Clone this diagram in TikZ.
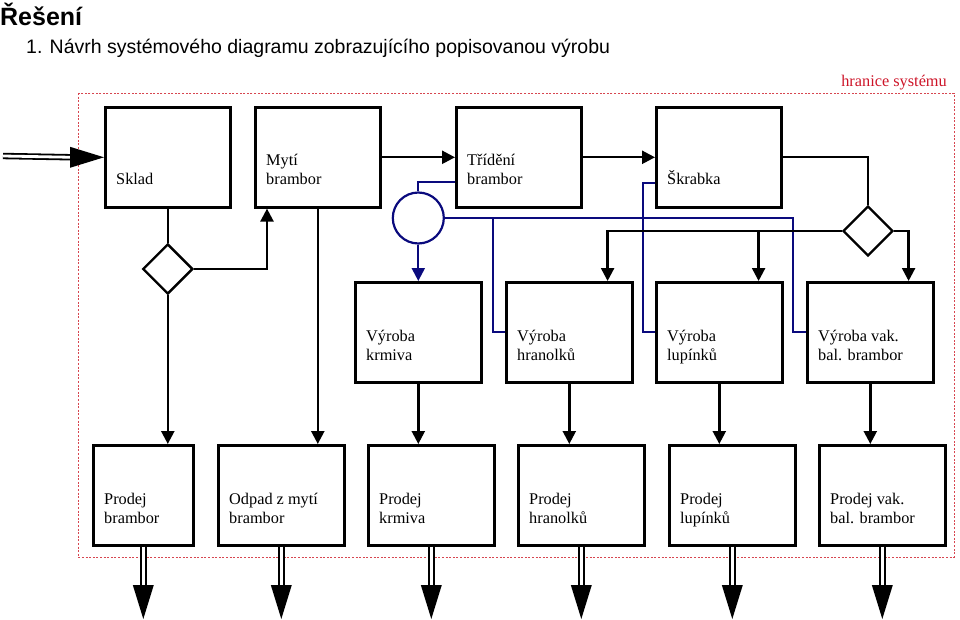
\documentclass[tikz,border=0pt]{standalone}
\usepackage{fontspec}
\setmainfont{Liberation Serif}
\setsansfont{Liberation Sans}
\usetikzlibrary{arrows.meta,shapes.geometric}
\definecolor{flowblue}{RGB}{10,10,125}
\definecolor{bndred}{RGB}{215,70,80}
\definecolor{lblred}{RGB}{205,20,40}
\newcommand{\procbox}[5]{%
  \node[pbox, minimum width=#4pt] (#1) at (#2,#3) {};
  \node[ptext] (#1-t) at (#2+12,#3+79) {\begin{tabular}[b]{@{}l@{}}#5\end{tabular}};}
\newcommand{\fatdown}[1]{%
  \coordinate (#1-end) at (#1.south |- 0,619);
  \draw[dbl] (#1.south) -- ([yshift=31]#1-end);
  \fill ([xshift=-10.5,yshift=34]#1-end) -- (#1-end) -- ([xshift=10.5,yshift=34]#1-end) -- cycle;}
\begin{document}
\begin{tikzpicture}[x=1pt,y=-1pt,
  pbox/.style={draw, line width=2.6pt, minimum height=100pt, inner sep=0pt, anchor=north west},
  ptext/.style={inner sep=0pt, anchor=base west, font=\fontsize{16.3}{19}\selectfont},
  ln/.style={line width=2.4pt},
  arr/.style={ln, -{Triangle[length=13pt,width=13pt]}},
  bln/.style={line width=2.2pt, draw=flowblue},
  barr/.style={bln, -{Triangle[length=13pt,width=13pt]}},
  dbl/.style={double, line width=1.8pt, double distance=2.8pt},
  dec/.style={diamond, draw, line width=2.4pt, minimum width=50pt, minimum height=50pt, inner sep=0pt},
  circ/.style={circle, draw=flowblue, line width=2.2pt, minimum size=51pt, inner sep=0pt},
  bnd/.style={draw=bndred, line width=0.9pt, dash pattern=on 2pt off 1.6pt}]
\useasboundingbox (0,0) rectangle (960,620);
\node[anchor=base west, inner sep=0pt, font=\sffamily\bfseries\fontsize{25}{30}\selectfont] (title) at (0,26) {Řešení};
\node[anchor=base west, inner sep=0pt, font=\sffamily\fontsize{19.5}{23}\selectfont] (sub) at (26,54) {\makebox[23.5pt][l]{1.}Návrh systémového diagramu zobrazujícího popisovanou výrobu};
\draw[bnd] (78,93) rectangle (954,557);
\node[anchor=base east, inner sep=0pt, text=lblred, font=\fontsize{16.3}{19}\selectfont] (hr) at (947,87) {hranice systému};

\procbox{sklad}{104}{106}{125}{Sklad}
\procbox{myti}{254}{106}{125}{Mytí\\brambor}
\procbox{trid}{455}{106}{125}{Třídění\\brambor}
\procbox{skr}{655}{106}{125}{Škrabka}
\procbox{vk}{354}{281}{126}{Výroba\\krmiva}
\procbox{vh}{505}{281}{126}{Výroba\\hranolků}
\procbox{vl}{655}{281}{126}{Výroba\\lupínků}
\procbox{vv}{806}{281}{126}{Výroba vak.\\bal. brambor}
\procbox{pb}{92}{444}{100}{Prodej\\brambor}
\procbox{po}{217}{444}{126}{Odpad z mytí\\brambor}
\procbox{pk}{367}{444}{126}{Prodej\\krmiva}
\procbox{ph}{517}{444}{126}{Prodej\\hranolků}
\procbox{pl}{668}{444}{126}{Prodej\\lupínků}
\procbox{pv}{818}{444}{126}{Prodej vak.\\bal. brambor}

\node[dec] (d1) at (sklad.south |- 0,269) {};
\node[dec] (d2) at (868,231) {};
\node[circ] (c) at (vk.north |- 0,218) {};

% input
\coordinate (in-start) at (3,156);
\draw[dbl] (in-start) -- ([xshift=-31]sklad.west);
\fill ([xshift=-34,yshift=10.5]sklad.west) -- (sklad.west) -- ([xshift=-34,yshift=-10.5]sklad.west) -- cycle;

% top row flow
\draw[arr] (myti.east) -- (trid.west);
\draw[arr] (trid.east) -- (skr.west);
\draw[ln] (sklad.south) -- (d1.north);
\draw[arr] (d1.east) -| ([xshift=13]myti.south west);
\draw[arr] (d1.south) -- (d1.south |- pb.north);
\draw[arr] (myti.south) -- (myti.south |- po.north);

% blue flows
\draw[bln] ([yshift=-25]trid.west) -| (c.north);
\draw[barr] (c.south) -- (vk.north);
\draw[bln] (c.east) -- (c.east -| 793,0) |- (vv.west);
\draw[bln] (c.east -| 493,0) |- (vh.west);
\draw[bln] ([yshift=-26]skr.west) -- ++(-12,0) |- (vl.west);

% right diamond
\draw[ln] (skr.east) -| (d2.north);
\draw[arr] (d2.east) -| ([xshift=-26]vv.north east);
\draw[arr] (d2.west) -| ([xshift=-26]vh.north east);
\coordinate (vl-in) at ([xshift=-25]vl.north east);
\draw[arr] (d2.west -| vl-in) -- (vl-in);

% middle to bottom
\draw[arr] (vk.south) -- (vk.south |- pk.north);
\draw[arr] (vh.south) -- (vh.south |- ph.north);
\draw[arr] (vl.south) -- (vl.south |- pl.north);
\draw[arr] (vv.south) -- (vv.south |- pv.north);

% outputs
\fatdown{pb}
\fatdown{po}
\fatdown{pk}
\fatdown{ph}
\fatdown{pl}
\fatdown{pv}
\end{tikzpicture}
\end{document}
